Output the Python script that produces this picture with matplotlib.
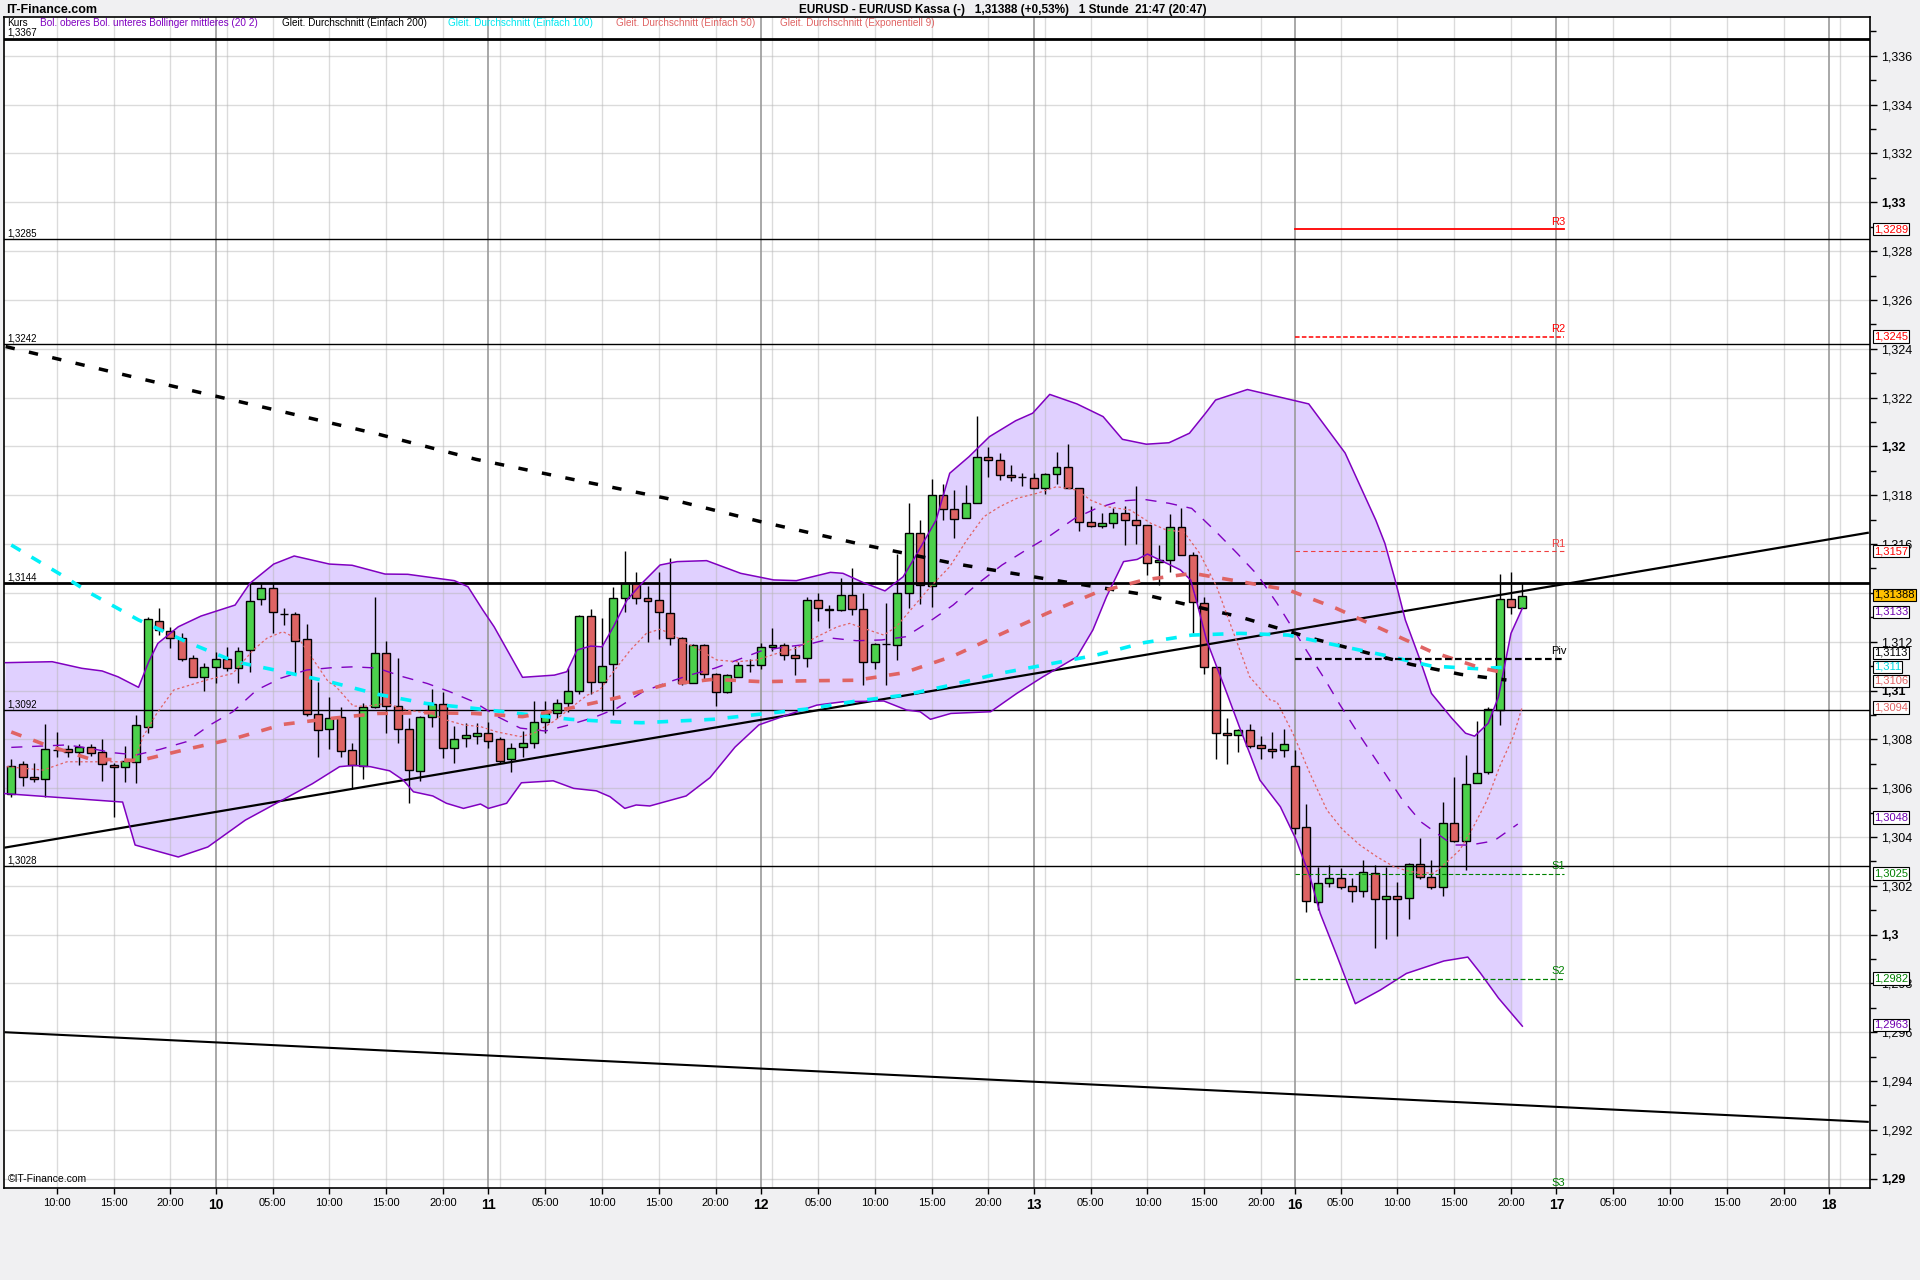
import numpy as np
import matplotlib
matplotlib.use('Agg')
import matplotlib.pyplot as plt
import matplotlib.transforms as mtrans

# ---- hourly candles (x = bar index in hours, weekend removed) ----
bar_k = list(range(6, 140))
opens = [1.30578,1.30697,1.30647,1.30636,1.30756,1.30759,1.30749,1.30767,1.30747,1.30695,
         1.30685,1.30708,1.30852,1.31286,1.31245,1.31214,1.31132,1.31054,1.31095,1.31128,
         1.31091,1.31165,1.31373,1.31418,1.31313,1.31312,1.31210,1.30902,1.30841,1.30890,
         1.30756,1.30690,1.30931,1.31152,1.30936,1.30841,1.30670,1.30890,1.30943,1.30763,
         1.30804,1.30815,1.30827,1.30800,1.30718,1.30767,1.30783,1.30872,1.30909,1.30950,
         1.30999,1.31307,1.31033,1.31109,1.31378,1.31442,1.31378,1.31369,1.31319,1.31214,
         1.31032,1.31188,1.31069,1.30994,1.31057,1.31104,1.31106,1.31180,1.31186,1.31147,
         1.31134,1.31372,1.31335,1.31328,1.31393,1.31335,1.31117,1.31189,1.31186,1.31401,
         1.31647,1.31428,1.31800,1.31744,1.31707,1.31768,1.31957,1.31945,1.31883,1.31874,
         1.31871,1.31830,1.31887,1.31916,1.31830,1.31690,1.31675,1.31686,1.31727,1.31699,
         1.31677,1.31525,1.31533,1.31670,1.31557,1.31359,1.31096,1.30826,1.30819,1.30839,
         1.30775,1.30760,1.30757,1.30689,1.30440,1.30133,1.30211,1.30231,1.30199,1.30180,
         1.30252,1.30145,1.30160,1.30150,1.30289,1.30236,1.30195,1.30457,1.30384,1.30621,
         1.30665,1.30921,1.31376,1.31338]
highs = [1.30721,1.30711,1.30701,1.30863,1.30828,1.30777,1.30781,1.30781,1.30801,1.30701,
         1.30774,1.30900,1.31300,1.31337,1.31259,1.31237,1.31144,1.31114,1.31159,1.31177,
         1.31177,1.31439,1.31439,1.31439,1.31337,1.31320,1.31272,1.31033,1.30975,1.30934,
         1.30786,1.30947,1.31382,1.31203,1.31134,1.30889,1.30895,1.31006,1.30992,1.30854,
         1.30865,1.30865,1.30872,1.30808,1.30783,1.30834,1.30958,1.30958,1.30964,1.31091,
         1.31309,1.31334,1.31296,1.31423,1.31572,1.31484,1.31428,1.31487,1.31544,1.31221,
         1.31190,1.31190,1.31073,1.31069,1.31117,1.31128,1.31193,1.31255,1.31196,1.31182,
         1.31384,1.31398,1.31349,1.31462,1.31503,1.31401,1.31195,1.31360,1.31561,1.31767,
         1.31698,1.31865,1.31846,1.31823,1.31843,1.32126,1.31997,1.31973,1.31924,1.31891,
         1.31891,1.31891,1.31977,1.32011,1.31830,1.31757,1.31727,1.31748,1.31755,1.31837,
         1.31680,1.31595,1.31723,1.31748,1.31566,1.31383,1.31096,1.30887,1.30842,1.30863,
         1.30812,1.30830,1.30842,1.30757,1.30535,1.30279,1.30286,1.30272,1.30231,1.30307,
         1.30286,1.30279,1.30215,1.30293,1.30395,1.30307,1.30543,1.30645,1.30737,1.30876,
         1.30931,1.31479,1.31484,1.31440]
lows = [1.30565,1.30610,1.30626,1.30565,1.30729,1.30729,1.30695,1.30733,1.30630,1.30483,
        1.30626,1.30622,1.30824,1.31227,1.31173,1.31122,1.31054,1.30998,1.31032,1.31080,
        1.31032,1.31077,1.31351,1.31237,1.31268,1.31073,1.30895,1.30729,1.30760,1.30726,
        1.30599,1.30636,1.30927,1.30827,1.30786,1.30540,1.30630,1.30852,1.30722,1.30701,
        1.30770,1.30781,1.30763,1.30704,1.30665,1.30726,1.30763,1.30827,1.30886,1.30913,
        1.30984,1.30986,1.30916,1.30900,1.31323,1.31353,1.31200,1.31210,1.31185,1.31022,
        1.31032,1.31039,1.30936,1.30988,1.31057,1.31076,1.31087,1.31162,1.31125,1.31063,
        1.31096,1.31285,1.31255,1.31326,1.31309,1.31022,1.31087,1.31022,1.31125,1.31339,
        1.31356,1.31342,1.31698,1.31625,1.31707,1.31768,1.31875,1.31861,1.31857,1.31837,
        1.31830,1.31807,1.31846,1.31830,1.31652,1.31670,1.31666,1.31666,1.31595,1.31600,
        1.31472,1.31431,1.31484,1.31557,1.31236,1.31068,1.30719,1.30700,1.30747,1.30764,
        1.30719,1.30723,1.30726,1.30413,1.30091,1.30099,1.30197,1.30186,1.30132,1.30156,
        1.29947,1.29981,1.29993,1.30063,1.30227,1.30188,1.30160,1.30378,1.30263,1.30621,
        1.30658,1.30857,1.31315,1.31338]
closes = [1.30692,1.30647,1.30636,1.30759,1.30756,1.30749,1.30767,1.30745,1.30697,1.30685,
          1.30710,1.30859,1.31292,1.31248,1.31214,1.31129,1.31054,1.31095,1.31128,1.31091,
          1.31163,1.31368,1.31418,1.31320,1.31313,1.31204,1.30902,1.30837,1.30889,1.30753,
          1.30693,1.30931,1.31152,1.30936,1.30841,1.30674,1.30893,1.30943,1.30763,1.30803,
          1.30816,1.30824,1.30794,1.30712,1.30763,1.30783,1.30872,1.30906,1.30950,1.30999,
          1.31307,1.31033,1.31102,1.31378,1.31442,1.31378,1.31367,1.31323,1.31214,1.31032,
          1.31188,1.31069,1.30995,1.31062,1.31103,1.31104,1.31180,1.31188,1.31145,1.31134,
          1.31372,1.31339,1.31328,1.31393,1.31335,1.31117,1.31192,1.31189,1.31401,1.31647,
          1.31432,1.31800,1.31742,1.31703,1.31768,1.31957,1.31945,1.31883,1.31875,1.31874,
          1.31830,1.31887,1.31916,1.31830,1.31690,1.31675,1.31686,1.31727,1.31699,1.31677,
          1.31522,1.31533,1.31670,1.31557,1.31363,1.31096,1.30826,1.30819,1.30839,1.30774,
          1.30764,1.30753,1.30781,1.30436,1.30136,1.30211,1.30231,1.30195,1.30180,1.30256,
          1.30145,1.30160,1.30145,1.30289,1.30236,1.30195,1.30457,1.30384,1.30617,1.30662,
          1.30924,1.31376,1.31342,1.31389]

# ---- indicators (bar index, price) ----
ma200_k = [5.5, 17.5, 29.9, 38.3, 46.9, 55.3, 63.7, 72.1, 80.7, 89.0, 97.1, 105.6, 114.1, 120.7, 129.2, 133.6, 137.6]
ma200_p = [1.32409, 1.32276, 1.32142, 1.3205, 1.31947, 1.31866, 1.31787, 1.3169, 1.316, 1.3152,
           1.31457, 1.31394, 1.31302, 1.31211, 1.31107, 1.31066, 1.31043]

ma100_k = [6.0, 10.5, 13.1, 17.2, 21.4, 25.7, 29.9, 34.0, 38.3, 42.5, 46.7, 51.0, 55.2, 59.3, 61.5,
           67.8, 72.1, 76.2, 80.4, 84.6, 88.7, 93.0, 97.2, 101.5, 105.7, 109.9, 114.2, 118.4,
           122.6, 126.8, 131.0, 135.2, 137.3]
ma100_p = [1.31596, 1.31471, 1.31395, 1.31289, 1.312, 1.31118, 1.31077, 1.31036, 1.30984, 1.30947,
           1.30927, 1.30904, 1.30882, 1.30871, 1.30868, 1.30882, 1.30904, 1.30925, 1.30957, 1.30981,
           1.31022, 1.3107, 1.31107, 1.31145, 1.31196, 1.31227, 1.31234, 1.31227, 1.31186, 1.31145,
           1.311, 1.31089, 1.31095]

ma50_k = [6.0, 8.8, 12.9, 17.3, 21.5, 25.7, 29.9, 34.2, 38.3, 42.5, 46.7, 51.0, 55.1, 59.3, 63.6,
          67.8, 72.1, 76.3, 80.4, 84.6, 88.9, 93.1, 97.3, 101.5, 105.7, 110.0, 114.2, 118.4,
          122.6, 126.8, 131.0, 135.3, 137.4]
ma50_p = [1.3083, 1.30781, 1.3072, 1.30713, 1.3076, 1.30804, 1.30861, 1.30886, 1.30906, 1.30909,
          1.30906, 1.30893, 1.30927, 1.3097, 1.31024, 1.31046, 1.31036, 1.3104, 1.31042, 1.31073,
          1.31141, 1.31231, 1.31319, 1.31401, 1.31453, 1.3148, 1.31446, 1.31412, 1.31337, 1.31248,
          1.31159, 1.31093, 1.31073]

ema9_k = [5.6, 8.8, 10.9, 14.7, 16.8, 17.6, 18.8, 20.3, 23.2, 25.5, 27.3, 28.5, 29.9, 31.4, 32.6,
          33.9, 34.6, 36.1, 37.3, 39.0, 40.8, 42.9, 44.3, 45.8, 47.3, 48.7, 50.8, 52.0, 53.7, 55.2,
          56.7, 57.8, 59.0, 60.5, 61.9, 63.1, 64.0, 65.2, 66.6, 68.1, 69.9, 71.6, 73.4, 75.1, 76.9,
          78.7, 79.8, 81.0, 82.8, 83.9, 85.4, 86.9, 88.6, 90.1, 91.6, 93.0, 94.5, 96.3, 98.0, 99.8,
          101.0, 102.4, 104.5, 106.3, 107.7, 109.2, 110.6, 112.1, 113.6, 115.0, 116.8, 117.4, 118.8,
          120.3, 121.8, 123.2, 124.7, 126.2, 127.7, 129.1, 131.2, 132.4, 133.5, 134.7, 135.9, 137.0,
          138.2, 139.0]
ema9_p = [1.30688, 1.30674, 1.30708, 1.30708, 1.30708, 1.30811, 1.30906, 1.31002, 1.31043, 1.3107,
          1.31166, 1.31214, 1.31241, 1.31207, 1.31125, 1.31036, 1.31015, 1.30936, 1.30936, 1.30947,
          1.3092, 1.30906, 1.30879, 1.30859, 1.30852, 1.30831, 1.30811, 1.30825, 1.30872, 1.30927,
          1.30981, 1.31002, 1.31077, 1.31166, 1.31234, 1.31251, 1.31234, 1.312, 1.31166, 1.31125,
          1.31118, 1.31125, 1.31152, 1.31173, 1.3122, 1.31261, 1.31275, 1.31255, 1.31227, 1.31261,
          1.31343, 1.31425, 1.31507, 1.31616, 1.31712, 1.31753, 1.31787, 1.31808, 1.31835, 1.31821,
          1.3178, 1.31753, 1.31739, 1.31685, 1.31657, 1.3165, 1.31562, 1.31425, 1.31234, 1.31056,
          1.30961, 1.30954, 1.30825, 1.30661, 1.3051, 1.30429, 1.30367, 1.30319, 1.30278, 1.30258,
          1.30251, 1.30299, 1.30347, 1.30442, 1.30551, 1.30688, 1.30811, 1.30934]

bb_up_k = [5.5, 9.6, 12.2, 14.0, 15.4, 17.2, 18.1, 18.9, 20.7, 22.7, 25.7, 27.0, 29.1, 30.9, 34.0,
           36.0, 38.9, 40.9, 45.0, 46.2, 47.5, 48.5, 51.0, 53.8, 54.9, 55.8, 57.0, 58.0, 59.0, 60.2,
           61.5, 63.1, 64.6, 67.2, 70.2, 73.1, 75.1, 78.1, 79.2, 81.0, 82.9, 84.5, 85.4, 87.4, 88.6,
           90.3, 92.1, 94.4, 95.9, 97.4, 99.8, 102.1, 103.8, 105.9, 107.9, 109.7, 111.1, 112.0, 114.8,
           120.2, 123.4, 126.1, 126.9, 127.8, 128.7, 129.9, 131.0, 132.8, 134.0, 134.8, 136.0, 136.9,
           138.0, 139.0]
bb_up_p = [1.31114, 1.31118, 1.31091, 1.3108, 1.31056, 1.31013, 1.31118, 1.31193, 1.31261, 1.31305,
           1.3135, 1.31439, 1.31518, 1.31551, 1.31518, 1.31513, 1.31477, 1.31476, 1.3145, 1.31425,
           1.3133, 1.31261, 1.31054, 1.31063, 1.31077, 1.31166, 1.31182, 1.31179, 1.31261, 1.31371,
           1.31439, 1.31514, 1.31528, 1.31532, 1.3148, 1.31453, 1.3145, 1.31484, 1.3148, 1.31442,
           1.31408, 1.31466, 1.31535, 1.31698, 1.3189, 1.31958, 1.3204, 1.32105, 1.32136, 1.32213,
           1.32174, 1.32122, 1.32029, 1.32009, 1.32015, 1.32054, 1.32135, 1.3219, 1.32233, 1.32174,
           1.31973, 1.31698, 1.31603, 1.31453, 1.31289, 1.31138, 1.30988, 1.30886, 1.30825, 1.30813,
           1.30866, 1.30974, 1.31234, 1.31337]

bb_lo_k = [5.3, 15.8, 16.9, 20.7, 23.3, 26.6, 32.5, 34.9, 36.1, 37.6, 39.3, 40.5, 41.4, 43.1, 44.3,
           45.8, 47.3, 48.0, 49.6, 50.9, 53.7, 55.5, 57.5, 58.7, 60.0, 61.0, 62.2, 65.4, 67.5, 69.7,
           71.8, 74.0, 76.9, 79.2, 82.8, 84.8, 86.0, 86.9, 88.7, 92.2, 94.5, 96.8, 99.8, 101.2, 102.4,
           103.9, 105.1, 106.0, 107.7, 108.9, 109.8, 110.3, 111.2, 112.1, 113.0, 114.2, 115.0, 115.9,
           117.7, 119.1, 120.3, 121.2, 122.7, 124.3, 126.5, 128.8, 132.1, 134.2, 135.3, 136.9, 139.0]
bb_lo_p = [1.30578, 1.30543, 1.30367, 1.30318, 1.30359, 1.30469, 1.30618, 1.30688, 1.30693, 1.30688,
           1.30671, 1.30633, 1.30585, 1.30568, 1.30538, 1.30517, 1.30535, 1.30517, 1.30538, 1.30622,
           1.3063, 1.30599, 1.30589, 1.30565, 1.30517, 1.30531, 1.30527, 1.30568, 1.30643, 1.30768,
           1.30859, 1.30895, 1.3094, 1.30954, 1.30957, 1.3092, 1.30913, 1.30882, 1.30906, 1.30913,
           1.30988, 1.31056, 1.31138, 1.31248, 1.31384, 1.31528, 1.31537, 1.31559, 1.31521, 1.31494,
           1.31453, 1.31371, 1.31207, 1.31097, 1.30988, 1.30838, 1.30743, 1.30633, 1.30524, 1.30388,
           1.30238, 1.30088, 1.29911, 1.29717, 1.29773, 1.29841, 1.29892, 1.29908, 1.29843, 1.2974,
           1.29625]

bb_mid_k = [6.0, 10.9, 12.9, 15.0, 17.0, 19.1, 21.4, 23.5, 25.5, 27.6, 29.7, 32.0, 34.1, 36.1, 38.2,
            40.5, 42.6, 44.6, 46.7, 48.8, 50.8, 53.0, 55.1, 57.3, 59.3, 61.6, 63.5, 65.7, 67.9, 69.9,
            72.0, 74.2, 76.2, 78.3, 80.4, 82.6, 84.7, 86.8, 88.9, 91.1, 93.2, 95.3, 97.3, 99.6, 101.5,
            103.6, 105.7, 107.9, 109.9, 111.9, 113.9, 115.7, 117.4, 120.2, 121.6, 122.9, 124.2, 125.6,
            127.0, 128.4, 130.1, 132.9, 134.4, 136.5, 138.6]
bb_mid_p = [1.30767, 1.30777, 1.30763, 1.30745, 1.30736, 1.30759, 1.3079, 1.30859, 1.30913, 1.31002,
            1.3105, 1.31084, 1.31093, 1.31097, 1.31092, 1.31056, 1.31029, 1.30995, 1.30954, 1.30893,
            1.30846, 1.30834, 1.30859, 1.3089, 1.30927, 1.30995, 1.31029, 1.31063, 1.31091, 1.31125,
            1.31162, 1.31179, 1.3119, 1.31214, 1.31204, 1.31207, 1.3122, 1.31282, 1.3135, 1.31439,
            1.31514, 1.31575, 1.3163, 1.31705, 1.31746, 1.31776, 1.31783, 1.31767, 1.31746, 1.31657,
            1.31562, 1.31473, 1.31358, 1.31149, 1.31047, 1.30945, 1.3085, 1.30752, 1.30654, 1.30555,
            1.30461, 1.30367, 1.30367, 1.30384, 1.30453]

# horizontal levels and trend lines
h_levels = [1.3367, 1.3285, 1.3242, 1.3144, 1.3092, 1.3028]
h_labels = ['1,3367', '1,3285', '1,3242', '1,3144', '1,3092', '1,3028']
h_thick = [True, False, False, True, False, False]
trend_up_k, trend_up_p = [5.5, 169.4], [1.30357, 1.31646]
trend_dn_k, trend_dn_p = [5.5, 169.4], [1.2960, 1.29233]

# pivot levels (drawn for the 16th)
piv_names = ['R3', 'R2', 'R1', 'Piv', 'S1', 'S2', 'S3']
piv_vals = [1.3289, 1.3245, 1.3157, 1.3113, 1.3025, 1.2982, 1.2895]
piv_cols = ['#FF0000', '#FF0000', '#F04040', 'black', '#008000', '#008000', '#008000']
piv_ls = ['-', (0, (3, 1.5)), (0, (4, 3)), (0, (3, 1.5)), (0, (4, 2)), (0, (4, 2)), (0, (4, 2))]
piv_lw = [1.3, 1.1, 0.8, 1.6, 0.8, 0.9, 0.9]
piv_start, piv_end = 119, 142.7

# x axis
day_lbl = ['10', '11', '12', '13', '16', '17', '18']
day_pos = [24, 48, 72, 96, 119, 142, 166]
hour_pos = [10, 15, 20, 29, 34, 39, 44, 53, 58, 63, 68, 77, 82, 87, 92, 101, 106, 111, 116,
            123, 128, 133, 138, 147, 152, 157, 162]
hour_lbl = ['10:00', '15:00', '20:00'] + ['05:00', '10:00', '15:00', '20:00'] * 6
extra_grid = [25, 49, 73, 97, 143, 167]

# value boxes at the right (placed where the chart shows them)
box_vals = [1.3289, 1.3245, 1.3157, 1.31392, 1.31322, 1.31155, 1.31097, 1.31040, 1.3093, 1.3048, 1.3025, 1.2982, 1.2963]
box_txt = ['1,3289', '1,3245', '1,3157', '1,31388', '1,3133', '1,3113', '1,311', '1,3106', '1,3094',
           '1,3048', '1,3025', '1,2982', '1,2963']
box_col = ['#FF0000', '#FF0000', '#FF0000', 'black', '#7000B0', 'black', '#00D8E0', '#E06464', '#E06464',
           '#7000B0', '#008000', '#008000', '#7000B0']
box_bg = ['white', 'white', 'white', '#FFC000'] + ['white'] * 9

SANS = ['Liberation Sans', 'DejaVu Sans']
GREEN, RED, PURPLE = '#4CD14C', '#DE6464', '#8000C0'

W, H = 1920, 1280
fig = plt.figure(figsize=(19.2, 12.8), dpi=100)
fig.patch.set_facecolor('#F0F0F2')
L, R, T, B = 4, 1870, 17, 1188
ax = fig.add_axes([L / W, 1 - B / H, (R - L) / W, (B - T) / H])
ax.set_facecolor('white')

# bollinger area
poly_k = bb_up_k + bb_lo_k[::-1]
poly_p = bb_up_p + bb_lo_p[::-1]
ax.fill(poly_k, poly_p, color='#E0D0FF', lw=0, zorder=1)

# grid
for v in np.arange(1.290, 1.3365, 0.002):
    ax.axhline(v, color='#B8B8B8', alpha=0.5, lw=1, zorder=1.5)
for k in hour_pos + extra_grid:
    ax.axvline(k, color='#B8B8B8', alpha=0.5, lw=1, zorder=1.5)
for k in day_pos:
    ax.axvline(k, color='#9A9A9A', lw=1.2, zorder=1.5)

# horizontal support/resistance lines
for lev, lab, thick in zip(h_levels, h_labels, h_thick):
    ax.axhline(lev, color='black', lw=2.0 if thick else 1.0, zorder=4)
    ax.text(5.65, lev + 0.00003, lab, fontsize=7, family=SANS, va='bottom', ha='left', zorder=6)

ax.plot(trend_up_k, trend_up_p, color='black', lw=1.6, zorder=4)
ax.plot(trend_dn_k, trend_dn_p, color='black', lw=1.5, zorder=4)

# candles
o = np.array(opens); c = np.array(closes)
ax.vlines(bar_k, lows, highs, color='black', lw=1.0, zorder=3)
cols = [GREEN if cc > oo else RED for oo, cc in zip(o, c)]
ax.bar(bar_k, np.abs(c - o), width=0.7, bottom=np.minimum(o, c), color=cols,
       edgecolor='black', linewidth=1.0, zorder=3.2)

# indicators
ax.plot(bb_up_k, bb_up_p, color=PURPLE, lw=1.1, zorder=4.5)
ax.plot(bb_lo_k, bb_lo_p, color=PURPLE, lw=1.1, zorder=4.5)
ax.plot(bb_mid_k, bb_mid_p, color=PURPLE, lw=1.0, ls=(0, (8, 7)), zorder=4.5)
ax.plot(ma200_k, ma200_p, color='black', lw=2.5, ls=(0, (2.7, 4.2)), zorder=5)
ax.plot(ma100_k, ma100_p, color='#00F0F8', lw=2.6, ls=(0, (3, 3.5)), zorder=5)
ax.plot(ma50_k, ma50_p, color='#E06464', lw=2.6, ls=(0, (3, 3.5)), zorder=5)
ax.plot(ema9_k, ema9_p, color='#E06464', lw=0.9, ls=(0, (2, 2)), zorder=5)

# pivots
for name, v, col, ls, lw in zip(piv_names, piv_vals, piv_cols, piv_ls, piv_lw):
    ax.plot([piv_start, piv_end], [v, v], color=col, ls=ls, lw=lw, zorder=5)
    ax.text(142.2, v + 0.0001, name, color=col, fontsize=8, family=SANS, ha='center', va='bottom', zorder=6)

# axes styling
for s in ax.spines.values():
    s.set_color('black'); s.set_linewidth(1.2)
ax.yaxis.tick_right()
yt = np.round(np.arange(1.290, 1.3365, 0.002), 3)
ax.set_yticks(yt)
ax.set_yticklabels([f'{v:.3f}'.rstrip('0').replace('.', ',') for v in yt])
for v, lab in zip(yt, ax.get_yticklabels()):
    lab.set_family(SANS)
    lab.set_fontsize(9)
    if abs(v * 100 - round(v * 100)) < 1e-6:
        lab.set_fontweight('bold')
    if abs(v - 1.314) < 1e-6:
        lab.set_visible(False)   # fully covered by the last-price box
ax.set_yticks(np.round(np.arange(1.290, 1.3375, 0.001), 3), minor=True)
ax.tick_params(axis='y', which='major', direction='out', length=5, width=1, pad=3)
ax.tick_params(axis='y', which='minor', direction='out', length=4, width=1)

ax.set_xticks(hour_pos + day_pos)
ax.set_xticklabels(hour_lbl + day_lbl)
for i, lab in enumerate(ax.get_xticklabels()):
    lab.set_family(SANS)
    if i >= len(hour_pos):
        lab.set_fontweight('bold'); lab.set_fontsize(10)
    else:
        lab.set_fontsize(8)
ax.tick_params(axis='x', direction='out', length=4, width=1, pad=3)

# limits last: set_yticks may widen them
ax.set_xlim(5.36, 169.6)
ax.set_ylim(1.28962, 1.33759)

# value boxes on right axis
tr = mtrans.blended_transform_factory(ax.transAxes, ax.transData)
for v, t, col, bg in zip(box_vals, box_txt, box_col, box_bg):
    ax.text(1.0022, v, t, transform=tr, color=col, fontsize=8, family=SANS, ha='left', va='center',
            clip_on=False, zorder=10,
            bbox=dict(boxstyle='square,pad=0.1', fc=bg, ec='black', lw=0.8))

# header texts
fig.text(6 / W, 1 - 10 / H, 'IT-Finance.com', fontsize=9, fontweight='bold', family=SANS, va='center')
fig.text(1003 / W, 1 - 10 / H, 'EURUSD - EUR/USD Kassa (-)   1,31388 (+0,53%)   1 Stunde  21:47 (20:47)',
         fontsize=8.5, fontweight='bold', family=SANS, va='center', ha='center')

legend_items = [('Kurs', 7, 'black'),
                ('Bol. oberes Bol. unteres Bollinger mittleres (20 2)', 40, PURPLE),
                ('Gleit. Durchschnitt (Einfach 200)', 282, 'black'),
                ('Gleit. Durchschnitt (Einfach 100)', 448, '#00E8F0'),
                ('Gleit. Durchschnitt (Einfach 50)', 616, '#E06464'),
                ('Gleit. Durchschnitt (Exponentiell 9)', 780, '#E06464')]
for txt, xp, col in legend_items:
    fig.text(xp / W, 1 - 23 / H, txt, fontsize=7.2, color=col, family=SANS, va='center')

ax.text(0.002, 0.003, '\u00a9IT-Finance.com', transform=ax.transAxes, fontsize=7.5, family=SANS,
        va='bottom', ha='left', zorder=6)

fig.savefig('out.png', dpi=100, facecolor=fig.get_facecolor())
